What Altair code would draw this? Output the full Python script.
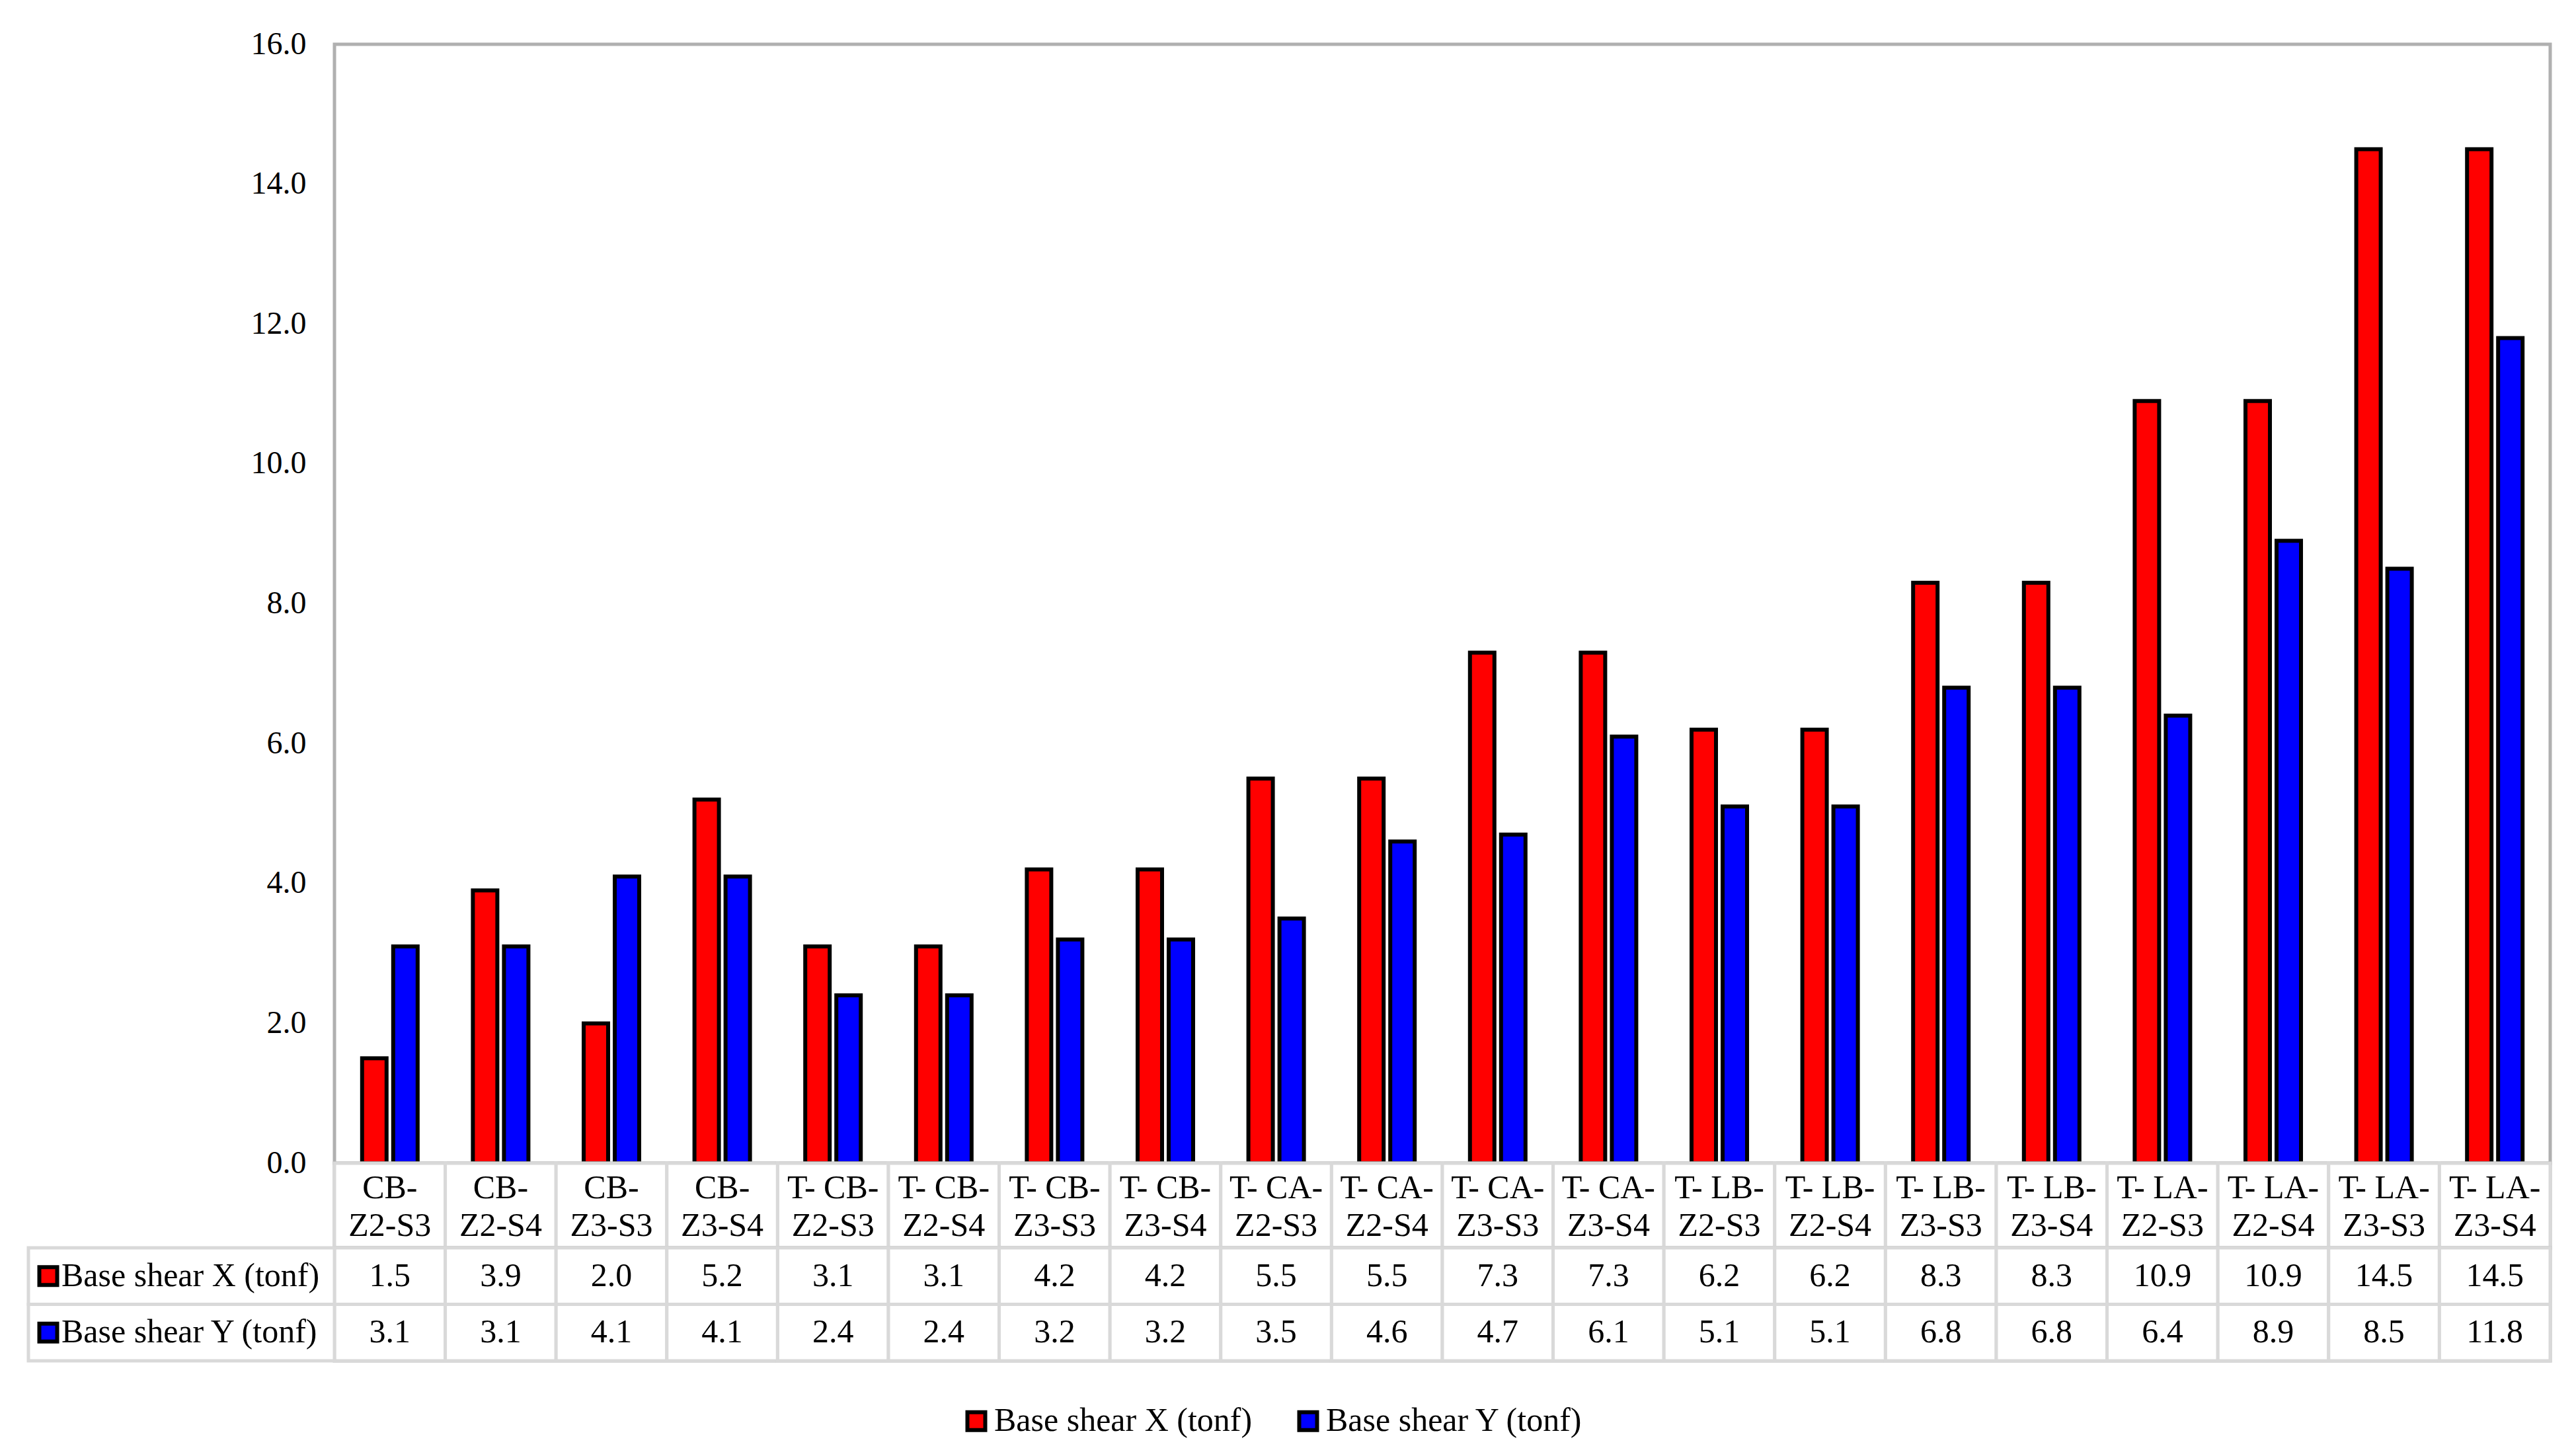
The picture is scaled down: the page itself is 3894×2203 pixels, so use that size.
import altair as alt
import pandas as pd

cats = ["CB-Z2-S3", "CB-Z2-S4", "CB-Z3-S3", "CB-Z3-S4",
        "T- CB-Z2-S3", "T- CB-Z2-S4", "T- CB-Z3-S3", "T- CB-Z3-S4",
        "T- CA-Z2-S3", "T- CA-Z2-S4", "T- CA-Z3-S3", "T- CA-Z3-S4",
        "T- LB-Z2-S3", "T- LB-Z2-S4", "T- LB-Z3-S3", "T- LB-Z3-S4",
        "T- LA-Z2-S3", "T- LA-Z2-S4", "T- LA-Z3-S3", "T- LA-Z3-S4"]
base_x = [1.5, 3.9, 2.0, 5.2, 3.1, 3.1, 4.2, 4.2, 5.5, 5.5,
          7.3, 7.3, 6.2, 6.2, 8.3, 8.3, 10.9, 10.9, 14.5, 14.5]
base_y = [3.1, 3.1, 4.1, 4.1, 2.4, 2.4, 3.2, 3.2, 3.5, 4.6,
          4.7, 6.1, 5.1, 5.1, 6.8, 6.8, 6.4, 8.9, 8.5, 11.8]
series = ["Base shear X (tonf)", "Base shear Y (tonf)"]
colors = ["#ff0000", "#0000ff"]
y_ticks = [0, 2, 4, 6, 8, 10, 12, 14, 16]

rows = []
for c, vx, vy in zip(cats, base_x, base_y):
    rows.append({"cat": c, "series": series[0], "value": vx})
    rows.append({"cat": c, "series": series[1], "value": vy})
df = pd.DataFrame(rows)
cat_df = pd.DataFrame({"cat": cats})
ser_df = pd.DataFrame({"series": series})

FONT = "Liberation Serif"
FS = 48
FS2 = 50
W = 3352
GRID = "#d9d9d9"

x_enc = alt.X("cat:N", sort=cats, axis=None,
              scale=alt.Scale(paddingInner=0, paddingOuter=0))

bars = alt.Chart(df).mark_bar(stroke="black", strokeWidth=6).encode(
    x=x_enc,
    xOffset=alt.XOffset("series:N", sort=series,
                        scale=alt.Scale(paddingInner=0.213, paddingOuter=0.889)),
    y=alt.Y("value:Q", scale=alt.Scale(domain=[0, 16], nice=False),
            axis=alt.Axis(values=y_ticks, format=".1f", title=None, ticks=False,
                          domain=False, grid=False, labelFont=FONT,
                          labelFontSize=FS, labelColor="black", labelPadding=43)),
    color=alt.Color("series:N", sort=series,
                    scale=alt.Scale(domain=series, range=colors),
                    legend=alt.Legend(orient="none", legendX=946, legendY=2058,
                                      direction="horizontal", title=None,
                                      symbolType="square", symbolSize=729,
                                      symbolStrokeColor="black", symbolStrokeWidth=6,
                                      symbolOpacity=1,
                                      labelFont=FONT, labelFontSize=FS2,
                                      labelColor="black", labelLimit=1000,
                                      labelOffset=2, columnPadding=58, padding=0)),
).properties(width=W, height=1693)

header_rect = alt.Chart(cat_df).mark_rect(fill="white", stroke=GRID, strokeWidth=5).encode(x=x_enc)
header_text = alt.Chart(cat_df).transform_calculate(
    lab="replace(datum.cat, '-Z', '-\\nZ')"
).mark_text(font=FONT, fontSize=FS2, lineBreak="\n", lineHeight=57, dy=-26,
            color="black", baseline="middle").encode(x=x_enc, text="lab:N")
header = alt.layer(header_rect, header_text).properties(width=W, height=128)

y_row = alt.Y("series:N", sort=series, axis=None,
              scale=alt.Scale(paddingInner=0, paddingOuter=0))
cell = alt.Chart(df).mark_rect(fill="white", stroke=GRID, strokeWidth=5).encode(x=x_enc, y=y_row)
cell_text = alt.Chart(df).mark_text(font=FONT, fontSize=FS2, color="black").encode(
    x=x_enc, y=y_row, text=alt.Text("value:Q", format=".1f"))
lab_cell = alt.Chart(ser_df).mark_rect(fill="white", stroke=GRID, strokeWidth=5).encode(
    x=alt.value(-463), x2=alt.value(0), y=y_row)
key = alt.Chart(ser_df).mark_square(size=729, stroke="black", strokeWidth=6,
                                    opacity=1, filled=True).encode(
    x=alt.value(-433), y=y_row,
    fill=alt.Fill("series:N", scale=alt.Scale(domain=series, range=colors), legend=None))
lab_text = alt.Chart(ser_df).mark_text(align="left", font=FONT, fontSize=FS2,
                                       color="black").encode(
    x=alt.value(-413), y=y_row, text="series:N")
values = alt.layer(cell, cell_text, lab_cell, key, lab_text).properties(width=W, height=171)

chart = alt.vconcat(bars, header, values, spacing=0, bounds="flush").properties(
    padding={"left": 30, "top": 32, "right": 10, "bottom": 10}
).configure_view(stroke="#b0b0b0", strokeWidth=5)

chart.save("out.html", embed_options={"renderer": "svg", "actions": False})
